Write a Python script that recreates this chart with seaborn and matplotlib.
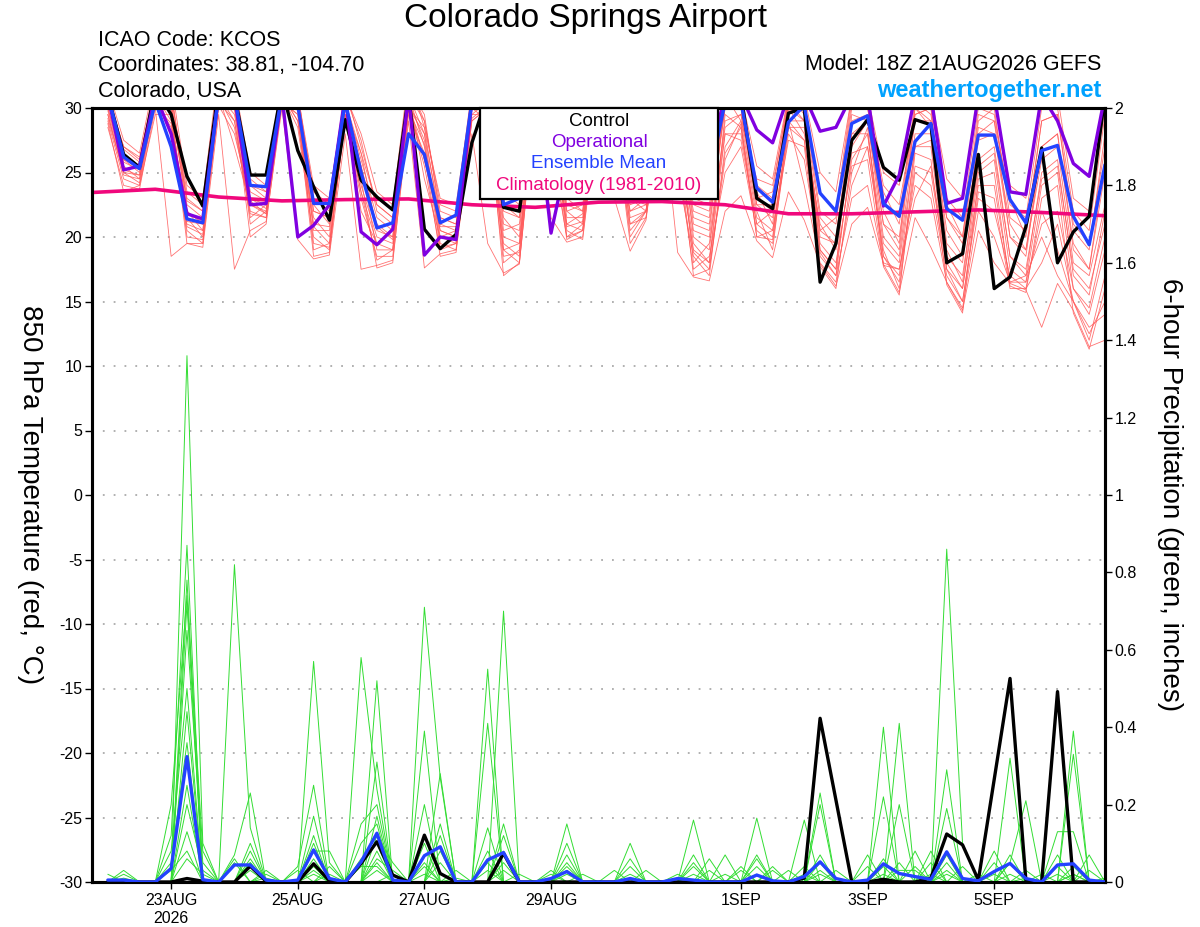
import numpy as np
import pandas as pd
import matplotlib
matplotlib.use("Agg")
import matplotlib.pyplot as plt
from matplotlib.patches import Rectangle
import seaborn as sns

# ---------------- DATA ----------------
times = pd.date_range("2026-08-22 00:00", periods=64, freq="6h")
clim_times = pd.date_range("2026-08-21 18:00", periods=17, freq="D")

tick_dates = ["2026-08-23", "2026-08-25", "2026-08-27", "2026-08-29",
              "2026-09-01", "2026-09-03", "2026-09-05"]
tick_labels = ["23AUG\n2026", "25AUG", "27AUG", "29AUG", "1SEP", "3SEP", "5SEP"]

temp_yticks = [-30, -25, -20, -15, -10, -5, 0, 5, 10, 15, 20, 25, 30]
precip_yticks = [0, 0.2, 0.4, 0.6, 0.8, 1.0, 1.2, 1.4, 1.6, 1.8, 2.0]
precip_ylabels = ["0", "0.2", "0.4", "0.6", "0.8", "1", "1.2", "1.4", "1.6", "1.8", "2"]

temp_control = [31.0, 26.4, 25.4, 31.5, 29.5, 24.7, 22.4, 31.5, 31.0, 24.8, 24.8, 31.5,
                26.7, 23.9, 21.3, 29.1, 24.4, 23.1, 22.1, 31.0, 20.6, 19.1, 20.2, 27.3,
                31.0, 22.3, 22.0, 31.0, 31.0, 24.5, 23.8, 31.0, 31.0, 25.5, 24.2, 31.0,
                30.5, 25.8, 24.5, 31.0, 31.0, 23.0, 22.2, 29.6, 30.0, 16.5, 19.5, 27.5,
                29.1, 25.4, 24.4, 29.1, 28.7, 18.0, 18.7, 26.4, 16.0, 16.9, 20.8, 26.9,
                18.0, 20.4, 21.6, 31.0]
temp_oper = [31.0, 25.2, 25.5, 31.0, 28.0, 21.8, 21.4, 31.0, 31.0, 22.5, 22.6, 31.0,
             20.0, 20.9, 22.5, 31.0, 20.4, 19.4, 20.6, 31.0, 18.6, 20.0, 19.8, 30.5,
             31.0, 24.5, 24.0, 31.0, 20.3, 26.0, 25.0, 31.0, 31.0, 26.0, 25.5, 31.0,
             31.0, 26.5, 26.0, 31.0, 31.0, 28.3, 27.3, 31.0, 31.0, 28.2, 28.5, 31.0,
             31.0, 22.4, 24.8, 31.0, 31.0, 22.6, 23.0, 31.0, 31.0, 23.5, 23.3, 31.0,
             29.0, 25.7, 24.7, 31.0]
temp_mean = [31.0, 26.2, 25.3, 30.5, 27.0, 21.4, 21.1, 31.0, 31.0, 24.0, 23.9, 31.0,
             30.2, 22.6, 22.6, 30.5, 25.0, 20.7, 21.1, 28.0, 26.4, 21.1, 21.7, 30.5,
             31.0, 22.5, 23.0, 31.0, 30.5, 24.5, 24.0, 30.5, 30.5, 25.0, 24.5, 30.5,
             30.5, 25.0, 24.5, 30.5, 30.5, 23.8, 22.7, 28.9, 30.2, 23.4, 22.0, 28.8,
             29.4, 22.6, 21.6, 27.4, 28.8, 22.2, 21.3, 27.9, 27.9, 22.9, 21.1, 26.7,
             27.1, 21.6, 19.4, 25.6]
temp_clim = [23.45, 23.7, 23.1, 22.8, 22.9, 22.95, 22.5, 22.3, 22.7, 22.75, 22.5,
             21.8, 21.8, 21.95, 22.1, 21.9, 21.65]

temp_m00 = [29.5, 25.0, 24.2, 31.0, 30.5, 22.0, 21.0, 31.5, 31.0, 23.5, 22.8, 32.0, 30.0, 22.5, 21.0, 30.5, 25.0, 21.0, 20.0, 31.0, 27.0, 20.5, 20.0, 30.5, 31.0, 22.0, 21.5, 32.0, 30.0, 22.0, 21.0, 31.5, 31.0, 24.0, 23.0, 32.0, 29.5, 21.0, 20.5, 30.5, 30.0, 23.0, 22.0, 30.0, 29.0, 20.0, 19.5, 28.0, 29.0, 21.0, 19.0, 29.5, 30.0, 19.5, 18.0, 28.0, 29.0, 20.0, 19.0, 27.0, 28.0, 19.0, 17.5, 26.0]
temp_m01 = [30.5, 26.0, 25.0, 31.5, 28.0, 20.5, 19.5, 31.0, 29.0, 22.0, 21.5, 31.0, 28.5, 20.0, 19.0, 29.5, 22.0, 19.5, 19.0, 30.0, 25.5, 19.0, 19.5, 29.0, 30.0, 20.0, 19.5, 31.0, 29.0, 21.0, 20.5, 30.5, 29.0, 20.5, 22.0, 31.0, 27.0, 19.0, 18.0, 28.0, 28.0, 21.0, 20.0, 29.0, 27.5, 19.0, 17.5, 26.0, 28.0, 18.5, 17.0, 27.0, 27.0, 17.5, 16.0, 25.0, 26.0, 17.5, 16.5, 24.0, 25.0, 16.0, 14.5, 20.0]
temp_m02 = [31.0, 27.0, 26.0, 32.0, 31.0, 23.0, 22.0, 32.0, 32.0, 25.0, 24.0, 32.5, 31.0, 24.0, 23.0, 31.5, 27.0, 22.5, 21.5, 32.0, 29.0, 22.5, 22.0, 31.5, 32.0, 24.0, 23.0, 32.5, 31.0, 24.0, 23.5, 32.0, 31.0, 25.0, 24.0, 32.0, 30.5, 24.0, 23.5, 31.0, 31.0, 25.5, 24.5, 31.0, 31.0, 25.0, 23.5, 31.0, 31.0, 25.0, 24.0, 31.0, 31.0, 24.5, 23.0, 31.0, 31.0, 24.0, 23.0, 31.0, 31.0, 23.0, 22.0, 30.0]
temp_m03 = [28.5, 24.0, 23.7, 30.0, 18.5, 19.5, 19.2, 29.5, 17.5, 20.5, 21.2, 30.0, 19.8, 18.3, 18.6, 28.0, 17.5, 17.8, 18.2, 29.0, 17.6, 18.7, 19.0, 28.0, 19.5, 17.2, 17.9, 30.0, 21.5, 19.6, 20.0, 30.0, 23.0, 18.9, 21.3, 30.5, 18.8, 16.9, 16.6, 22.0, 23.2, 19.7, 18.4, 23.5, 21.3, 17.9, 16.2, 21.0, 22.3, 17.9, 15.7, 21.5, 19.2, 16.5, 14.3, 20.5, 18.0, 16.4, 15.9, 13.0, 16.4, 14.3, 11.5, 12.0]
temp_m04 = [30.0, 25.5, 24.5, 31.0, 29.0, 21.5, 20.0, 30.5, 30.5, 21.0, 22.0, 31.0, 29.0, 21.5, 20.0, 30.0, 24.0, 20.0, 19.5, 30.5, 26.0, 21.0, 20.5, 30.0, 29.0, 18.0, 19.0, 31.0, 27.0, 20.0, 21.0, 31.0, 28.0, 22.0, 22.5, 31.5, 25.0, 18.5, 17.0, 27.0, 29.0, 22.0, 19.0, 29.0, 24.0, 18.0, 16.5, 24.0, 27.0, 19.0, 16.0, 25.0, 24.0, 17.0, 15.0, 23.0, 22.0, 17.0, 16.0, 22.0, 19.0, 15.0, 12.0, 17.0]
temp_m05 = [31.5, 27.5, 26.5, 32.5, 32.0, 24.0, 23.0, 33.0, 31.5, 24.5, 23.5, 32.0, 31.0, 23.5, 22.5, 31.0, 28.0, 23.5, 22.5, 32.5, 28.5, 23.0, 22.5, 31.0, 31.5, 23.5, 22.5, 32.0, 31.0, 23.0, 22.0, 31.5, 30.5, 23.5, 23.5, 31.5, 29.0, 22.5, 22.0, 30.0, 30.5, 24.0, 23.0, 30.5, 30.0, 22.0, 21.0, 30.0, 30.0, 22.5, 21.5, 30.5, 29.5, 21.5, 20.0, 29.0, 30.0, 21.5, 20.5, 29.0, 29.5, 20.5, 19.0, 28.0]
temp_m06 = [29.0, 24.5, 24.0, 30.5, 30.0, 20.0, 19.8, 31.0, 27.0, 22.5, 21.8, 30.5, 30.5, 19.0, 19.5, 29.0, 23.0, 18.5, 18.5, 30.0, 28.0, 19.5, 19.0, 30.0, 30.5, 19.5, 18.5, 31.5, 28.0, 19.8, 20.5, 30.5, 29.5, 19.5, 21.5, 30.0, 26.0, 17.5, 18.5, 25.0, 27.0, 20.5, 19.5, 28.0, 26.0, 18.5, 17.0, 23.0, 24.0, 18.0, 17.5, 24.0, 23.0, 16.5, 14.5, 22.0, 20.0, 16.5, 17.0, 20.0, 17.0, 15.0, 13.0, 14.0]
temp_m07 = [30.5, 26.5, 25.5, 31.0, 31.5, 22.5, 21.5, 32.0, 30.0, 23.0, 22.5, 31.5, 31.5, 22.0, 21.5, 30.5, 26.0, 21.5, 20.5, 31.5, 29.5, 21.5, 21.0, 30.5, 31.5, 21.0, 20.5, 31.5, 30.5, 22.5, 22.0, 32.0, 30.0, 21.0, 22.0, 31.0, 30.0, 20.0, 19.0, 29.0, 29.5, 23.5, 21.0, 30.0, 28.0, 21.0, 19.0, 27.0, 29.0, 20.0, 18.5, 28.0, 28.0, 19.0, 16.5, 26.0, 27.0, 18.5, 17.0, 25.0, 26.0, 17.0, 15.5, 22.0]
temp_m08 = [29.8, 25.2, 24.8, 30.8, 27.0, 21.0, 20.5, 30.8, 28.5, 21.8, 21.5, 31.8, 30.2, 20.5, 20.5, 30.2, 25.5, 19.0, 19.0, 31.0, 24.5, 20.0, 19.5, 29.5, 30.5, 17.0, 18.0, 30.5, 29.5, 21.5, 21.5, 31.0, 29.5, 23.0, 22.0, 30.5, 28.0, 19.5, 18.0, 29.5, 28.5, 20.0, 20.5, 28.5, 28.5, 19.5, 18.0, 25.5, 26.0, 17.8, 17.5, 23.0, 25.5, 18.0, 16.0, 24.0, 24.0, 16.5, 16.5, 21.0, 22.0, 16.0, 14.0, 19.0]
temp_m09 = [30.2, 26.8, 25.8, 31.2, 31.0, 23.5, 22.5, 31.5, 31.0, 24.0, 23.5, 31.5, 30.8, 23.0, 22.0, 31.0, 27.5, 22.0, 21.0, 31.0, 29.0, 22.0, 21.5, 31.0, 31.0, 22.5, 22.0, 31.0, 30.8, 23.5, 23.0, 31.5, 30.8, 22.5, 23.0, 31.0, 29.0, 23.0, 22.5, 30.5, 30.0, 22.5, 22.5, 30.5, 30.5, 23.5, 22.0, 31.0, 30.5, 24.0, 22.5, 29.5, 30.0, 23.0, 21.5, 30.0, 29.5, 22.5, 21.5, 30.0, 30.0, 22.0, 20.5, 29.5]
temp_m10 = [28.8, 23.5, 24.0, 29.5, 29.5, 19.5, 19.5, 30.0, 30.0, 20.0, 21.0, 30.5, 29.5, 18.5, 18.8, 29.5, 24.5, 17.6, 18.0, 29.5, 26.5, 18.5, 18.8, 29.0, 30.0, 19.0, 18.0, 30.0, 29.5, 20.5, 19.8, 30.0, 30.0, 20.0, 22.0, 30.5, 27.5, 17.0, 17.5, 26.5, 28.5, 21.5, 20.5, 27.5, 27.0, 17.7, 16.0, 25.0, 28.5, 17.7, 15.5, 26.5, 26.0, 16.3, 14.1, 24.5, 25.0, 16.2, 15.7, 23.0, 24.0, 14.1, 11.3, 16.0]
temp_m11 = [31.0, 26.0, 25.5, 31.0, 30.5, 22.0, 20.5, 31.0, 31.5, 22.5, 22.0, 32.0, 30.0, 21.0, 20.8, 30.0, 26.5, 20.5, 20.0, 30.5, 27.5, 20.0, 20.5, 30.0, 31.0, 20.5, 21.0, 31.0, 30.0, 22.0, 22.5, 31.0, 30.5, 24.5, 24.5, 31.5, 29.0, 21.5, 21.0, 30.0, 30.0, 23.0, 23.5, 31.0, 29.5, 21.5, 20.0, 29.0, 29.5, 21.0, 20.0, 29.0, 29.0, 20.5, 18.5, 27.5, 28.0, 20.0, 18.5, 27.0, 28.0, 19.5, 17.5, 25.0]
temp_m12 = [30.0, 25.8, 25.2, 31.0, 29.5, 21.2, 21.0, 31.0, 29.5, 23.0, 22.2, 30.5, 29.5, 22.0, 21.5, 30.0, 25.5, 20.8, 19.8, 30.0, 28.5, 20.8, 20.8, 30.5, 30.5, 21.5, 20.0, 30.5, 29.5, 21.0, 21.8, 30.5, 30.0, 22.0, 23.0, 30.5, 28.5, 20.5, 20.0, 28.5, 29.5, 22.5, 21.5, 29.0, 29.0, 20.5, 19.5, 28.0, 28.0, 19.5, 18.0, 27.0, 27.5, 18.5, 17.0, 25.5, 26.5, 18.5, 17.5, 24.5, 25.5, 17.5, 16.0, 21.0]
temp_m13 = [29.5, 24.8, 24.5, 30.5, 28.5, 21.8, 21.2, 30.5, 29.0, 21.5, 22.5, 31.0, 29.0, 20.8, 19.5, 29.5, 23.5, 19.5, 20.5, 30.0, 26.0, 20.5, 20.0, 29.5, 29.5, 19.0, 19.5, 30.5, 30.0, 20.0, 20.5, 31.0, 31.0, 21.5, 22.0, 31.5, 29.0, 18.0, 19.5, 28.0, 27.5, 21.0, 22.0, 30.5, 30.0, 19.0, 17.5, 29.5, 29.0, 22.0, 19.5, 30.0, 28.5, 21.5, 19.5, 28.5, 28.0, 21.0, 19.0, 26.0, 27.0, 18.0, 17.0, 22.5]
temp_m14 = [30.8, 27.0, 26.2, 31.5, 30.0, 22.8, 22.0, 31.5, 30.0, 24.0, 23.0, 31.0, 30.5, 23.5, 22.5, 30.5, 26.5, 22.5, 21.5, 31.0, 28.0, 21.5, 21.0, 31.0, 30.5, 22.5, 21.5, 31.0, 31.0, 24.0, 24.0, 31.5, 30.0, 23.0, 22.5, 30.5, 28.5, 22.0, 21.5, 31.0, 29.0, 24.5, 24.0, 30.5, 29.0, 20.5, 21.5, 30.5, 30.0, 23.5, 21.0, 30.0, 29.0, 22.5, 20.0, 29.5, 29.0, 23.0, 20.0, 29.0, 29.5, 21.0, 19.5, 27.0]
temp_m15 = [29.2, 25.0, 24.8, 30.2, 28.8, 20.8, 20.2, 30.2, 28.0, 22.8, 21.8, 30.8, 29.8, 19.5, 19.2, 29.2, 23.5, 18.2, 19.0, 29.8, 27.2, 19.2, 19.5, 29.2, 30.2, 18.5, 18.8, 30.2, 28.8, 20.8, 21.2, 30.2, 29.8, 21.0, 21.5, 30.2, 27.5, 18.8, 17.5, 26.0, 28.8, 20.0, 19.8, 28.5, 27.5, 18.8, 17.0, 26.5, 27.0, 18.5, 16.5, 25.5, 25.0, 17.5, 15.0, 23.5, 23.0, 16.0, 16.0, 18.0, 21.0, 15.0, 12.5, 15.0]
temp_members = [temp_m00, temp_m01, temp_m02, temp_m03, temp_m04, temp_m05, temp_m06, temp_m07,
                temp_m08, temp_m09, temp_m10, temp_m11, temp_m12, temp_m13, temp_m14, temp_m15]

precip_control = [0, 0, 0, 0, 0, 0.009, 0.002, 0, 0, 0.041, 0.002, 0, 0, 0.047, 0.003, 0,
                  0.048, 0.104, 0.018, 0, 0.121, 0.022, 0, 0, 0, 0.074, 0, 0, 0, 0, 0, 0,
                  0, 0, 0, 0, 0, 0, 0, 0, 0, 0, 0, 0, 0.010, 0.423, 0.212, 0,
                  0, 0.007, 0, 0, 0.010, 0.124, 0.096, 0.005, 0.265, 0.526, 0.005, 0,
                  0.492, 0, 0, 0]
precip_mean = [0.005, 0.005, 0, 0, 0.035, 0.324, 0.006, 0, 0.044, 0.044, 0.005, 0,
               0.005, 0.083, 0.009, 0, 0.052, 0.126, 0.005, 0, 0.068, 0.091, 0, 0,
               0.057, 0.076, 0, 0, 0.009, 0.027, 0, 0, 0, 0.009, 0, 0,
               0.009, 0.005, 0, 0, 0, 0.018, 0.003, 0, 0.014, 0.052, 0.009, 0,
               0.005, 0.047, 0.022, 0.014, 0.007, 0.078, 0.009, 0.003, 0.027, 0.048, 0.009, 0,
               0.044, 0.047, 0.005, 0]

precip_m00 = [0, .03, 0, 0, 0, 1.36, .10, 0, 0, .06, 0, 0, 0, .10, 0, 0, 0, .52, 0, 0, .20, 0, 0, 0, .55, 0, 0, 0, 0, .15, 0, 0, 0, 0, 0, 0, 0, .16, 0, 0, 0, 0, 0, 0, 0, .23, 0, 0, 0, .40, 0, 0, 0, .29, 0, 0, 0, .07, 0, 0, 0, .39, 0, 0]
precip_m01 = [0, 0, 0, 0, .12, .87, 0, 0, .07, .23, 0, 0, 0, .57, .05, 0, 0, .31, 0, 0, 0, .28, 0, 0, 0, .70, 0, 0, 0, 0, 0, 0, 0, .10, 0, 0, 0, 0, 0, 0, 0, .165, 0, 0, 0, 0, 0, 0, 0, 0, .41, 0, 0, .86, .10, 0, 0, 0, 0, 0, .13, .13, 0, 0]
precip_m02 = [0, 0, 0, 0, 0, .78, 0, 0, .82, .14, 0, 0, .04, .25, 0, 0, .58, .24, 0, 0, .39, 0, 0, 0, .08, 0, 0, 0, 0, .10, 0, 0, 0, 0, 0, 0, 0, .07, 0, 0, 0, 0, 0, 0, .16, 0, 0, 0, 0, .22, 0, 0, 0, .19, 0, 0, 0, .32, 0, 0, 0, .33, 0, 0]
precip_m03 = [0, 0, 0, 0, .20, .74, .08, 0, 0, .10, 0, 0, 0, .17, 0, 0, .15, .20, 0, 0, .71, .27, 0, 0, .41, 0, 0, 0, 0, .07, 0, 0, 0, 0, 0, 0, 0, 0, 0, 0, .04, 0, 0, 0, 0, .20, 0, 0, 0, 0, .20, 0, 0, 0, 0, 0, 0, .05, .21, 0, 0, 0, .07, 0]
precip_m04 = [0, .02, 0, 0, 0, .72, 0, 0, 0, .08, 0, 0, 0, .12, 0, 0, 0, .17, 0, 0, 0, .15, 0, 0, 0, .15, 0, 0, .03, 0, 0, 0, 0, .06, 0, 0, 0, 0, .06, 0, 0, .07, 0, 0, 0, 0, 0, 0, .07, 0, 0, 0, 0, .07, 0, 0, .08, 0, 0, 0, .07, 0, 0, 0]
precip_m05 = [0, 0, 0, 0, 0, .65, .05, 0, 0, 0, .03, 0, 0, .08, .08, 0, .10, .15, 0, 0, .10, 0, 0, 0, .14, 0, 0, 0, 0, .05, 0, 0, 0, 0, 0, 0, 0, 0, 0, .07, 0, 0, .04, 0, 0, .07, 0, 0, 0, .06, 0, .08, 0, 0, 0, 0, 0, 0, 0, 0, 0, .04, 0, 0]
precip_m06 = [0, 0, 0, 0, .08, .50, 0, 0, 0, .05, 0, 0, 0, .06, 0, 0, 0, .12, .05, 0, 0, .12, 0, 0, 0, .12, 0, 0, 0, 0, .02, 0, 0, 0, .03, 0, 0, .05, 0, 0, 0, .06, 0, 0, .04, 0, 0, 0, 0, 0, .05, 0, .08, 0, 0, 0, 0, 0, .03, 0, 0, 0, 0, 0]
precip_m07 = [0, 0, 0, 0, 0, .44, 0, 0, .06, 0, .02, 0, 0, 0, 0, 0, .06, .10, 0, 0, .05, 0, .03, 0, 0, .08, 0, 0, 0, .03, 0, 0, .03, 0, 0, 0, 0, .04, 0, 0, 0, 0, 0, .03, 0, .05, 0, 0, 0, 0, 0, 0, 0, .05, 0, 0, .05, 0, 0, 0, .04, 0, 0, 0]
precip_m08 = [.02, 0, 0, 0, .05, .36, 0, 0, 0, .05, 0, 0, 0, 0, .04, 0, 0, .08, 0, 0, 0, .08, 0, 0, .05, 0, .02, 0, 0, 0, 0, 0, 0, .04, 0, 0, 0, 0, .03, 0, 0, .04, 0, 0, 0, 0, .03, 0, .04, 0, 0, 0, .05, 0, 0, 0, 0, .05, 0, 0, 0, 0, .03, 0]
precip_m09 = [0, 0, 0, 0, 0, .25, 0, 0, .05, 0, 0, 0, 0, .04, 0, 0, 0, .06, .03, 0, .04, 0, 0, 0, 0, 0, 0, 0, .02, 0, 0, 0, 0, 0, 0, 0, .02, 0, 0, 0, .03, 0, 0, 0, 0, .03, 0, 0, 0, .04, 0, .04, 0, 0, .04, 0, 0, 0, 0, 0, 0, .02, 0, 0]
precip_m10 = [0, 0, 0, 0, 0, .20, .03, 0, 0, .04, 0, 0, .03, 0, 0, 0, 0, .05, 0, 0, 0, .05, 0, 0, 0, .05, 0, 0, 0, .04, 0, 0, 0, 0, 0, 0, 0, 0, 0, .02, 0, 0, .03, 0, 0, 0, 0, 0, 0, 0, 0, 0, 0, .03, 0, .02, 0, 0, 0, .02, 0, 0, 0, 0]
precip_m11 = [0, .01, 0, 0, 0, .13, 0, 0, 0, 0, .01, 0, 0, .03, 0, 0, .04, .04, 0, 0, 0, 0, 0, 0, .03, 0, 0, 0, 0, 0, 0, 0, 0, .02, 0, 0, 0, 0, 0, 0, 0, 0, 0, 0, .02, 0, 0, 0, 0, 0, .03, .03, 0, 0, 0, 0, .02, 0, 0, 0, .02, 0, 0, .01]
precip_m12 = [0, 0, 0, 0, .03, .08, 0, 0, 0, .03, 0, 0, 0, .02, 0, 0, 0, .03, 0, 0, .02, 0, 0, 0, 0, .03, 0, 0, 0, 0, 0, 0, 0, 0, 0, 0, 0, .02, 0, 0, 0, .02, 0, 0, 0, 0, 0, 0, 0, .02, 0, 0, 0, .02, 0, 0, 0, .02, 0, 0, 0, .02, 0, 0]
precip_m13 = [0, 0, 0, 0, 0, .06, .02, 0, 0, 0, 0, 0, 0, 0, .02, 0, 0, 0, .02, 0, 0, 0, .01, 0, 0, 0, 0, 0, 0, .02, 0, 0, 0, 0, 0, 0, 0, 0, 0, 0, 0, 0, 0, 0, 0, .02, 0, 0, 0, 0, 0, 0, .02, 0, 0, 0, 0, 0, .01, 0, 0, 0, 0, 0]
precip_members = [precip_m00, precip_m01, precip_m02, precip_m03, precip_m04, precip_m05, precip_m06,
                  precip_m07, precip_m08, precip_m09, precip_m10, precip_m11, precip_m12, precip_m13]

# ---------------- STYLE ----------------
sns.set_theme(style="white")
plt.rcParams["font.family"] = ["Liberation Sans", "DejaVu Sans"]
plt.rcParams["text.color"] = "black"
plt.rcParams["axes.labelcolor"] = "black"
plt.rcParams["xtick.color"] = "black"
plt.rcParams["ytick.color"] = "black"

RED = "#ff5a5a"
GREEN = "#33dd33"
PURPLE = "#8000e0"
BLUE = "#2442ff"
PINK = "#f0087c"
WEB = "#00a2ff"

fig = plt.figure(figsize=(12, 9.27), dpi=100)
ax = fig.add_axes([92 / 1200, 45 / 927, 1013 / 1200, 774 / 927])
ax.set_facecolor("white")
ax2 = ax.twinx()

n_t = len(times)
df_temp = pd.DataFrame({
    "time": np.tile(times, len(temp_members)),
    "value": np.concatenate([np.asarray(m, float) for m in temp_members]),
    "member": np.repeat(np.arange(len(temp_members)), n_t),
})
df_prec = pd.DataFrame({
    "time": np.tile(times, len(precip_members)),
    "value": np.concatenate([np.asarray(m, float) for m in precip_members]),
    "member": np.repeat(np.arange(len(precip_members)), n_t),
})

# temperature members
sns.lineplot(data=df_temp, x="time", y="value", units="member", estimator=None,
             color=RED, linewidth=0.6, alpha=0.85, ax=ax, legend=False, zorder=2)
# climatology and main temperature series
sns.lineplot(x=clim_times, y=temp_clim, color=PINK, linewidth=2.6, ax=ax, zorder=3)
sns.lineplot(x=times, y=temp_control, color="black", linewidth=2.4, ax=ax, zorder=4)
sns.lineplot(x=times, y=temp_oper, color=PURPLE, linewidth=2.4, ax=ax, zorder=5)
sns.lineplot(x=times, y=temp_mean, color=BLUE, linewidth=2.4, ax=ax, zorder=6)

# precipitation
sns.lineplot(data=df_prec, x="time", y="value", units="member", estimator=None,
             color=GREEN, linewidth=0.7, ax=ax2, legend=False, zorder=2)
sns.lineplot(x=times, y=precip_control, color="black", linewidth=2.4, ax=ax2, zorder=4)
sns.lineplot(x=times, y=precip_mean, color=BLUE, linewidth=2.4, ax=ax2, zorder=6)

# axes limits & ticks
xmin = pd.Timestamp("2026-08-21 18:00")
xmax = pd.Timestamp("2026-09-06 18:00")
ax.set_xlim(xmin, xmax)
ax.set_ylim(-30, 30)
ax2.set_ylim(0, 2)

ax.set_yticks(temp_yticks)
ax.set_yticklabels([str(v) for v in temp_yticks])
ax2.set_yticks(precip_yticks)
ax2.set_yticklabels(precip_ylabels)
ax.set_xticks(pd.to_datetime(tick_dates))
ax.set_xticklabels(tick_labels)

ax.set_xlabel("")
ax.set_ylabel("")
ax2.set_ylabel("")

ax.yaxis.grid(True, color="#aaaaaa", linestyle=(0, (1, 5)), linewidth=1.3)
ax.xaxis.grid(False)
ax2.grid(False)
ax.set_axisbelow(True)

for a in (ax, ax2):
    for s in a.spines.values():
        s.set_linewidth(2.2)
        s.set_color("black")
ax.tick_params(axis="y", direction="out", length=5, width=1, labelsize=11.5, pad=2, colors="black")
ax.tick_params(axis="x", direction="out", length=5, width=1, labelsize=11.5, pad=3, colors="black")
ax2.tick_params(axis="y", direction="out", length=5, width=1, labelsize=11.5, pad=2, colors="black")
ax.tick_params(left=True, bottom=True)
ax2.tick_params(right=True)

# legend box (colored text entries)
ax2.add_patch(Rectangle((0.383, 0.8825), 0.235, 0.1175, transform=ax2.transAxes,
                        facecolor="white", edgecolor="black", linewidth=1.6, zorder=20,
                        clip_on=False))
leg_entries = [("Control", "black"), ("Operational", PURPLE),
               ("Ensemble Mean", BLUE), ("Climatology (1981-2010)", PINK)]
for k, (lab, col) in enumerate(leg_entries):
    ax2.text(0.5005, 0.983 - k * 0.0275, lab, color=col, fontsize=13.5,
             ha="center", va="center", transform=ax2.transAxes, zorder=21)

# texts around
fig.text(585 / 1200, 1 - 18 / 927, "Colorado Springs Airport", fontsize=24,
         ha="center", va="center", color="black")
fig.text(98 / 1200, 1 - 40 / 927, "ICAO Code: KCOS", fontsize=15.5, ha="left", va="center", color="black")
fig.text(98 / 1200, 1 - 66 / 927, "Coordinates: 38.81, -104.70", fontsize=15.5, ha="left", va="center", color="black")
fig.text(98 / 1200, 1 - 92 / 927, "Colorado, USA", fontsize=15.5, ha="left", va="center", color="black")
fig.text(1101 / 1200, 1 - 65 / 927, "Model: 18Z 21AUG2026 GEFS", fontsize=15.5, ha="right", va="center", color="black")
fig.text(1101 / 1200, 1 - 90 / 927, "weathertogether.net", fontsize=17, fontweight="bold",
         color=WEB, ha="right", va="center")

fig.text(30 / 1200, 1 - 495 / 927, "850 hPa Temperature (red, °C)", fontsize=20,
         rotation=270, ha="center", va="center", color="black")
fig.text(1170 / 1200, 1 - 495 / 927, "6-hour Precipitation (green, inches)", fontsize=20,
         rotation=270, ha="center", va="center", color="black")

fig.savefig("out.png", dpi=100, facecolor="white")
